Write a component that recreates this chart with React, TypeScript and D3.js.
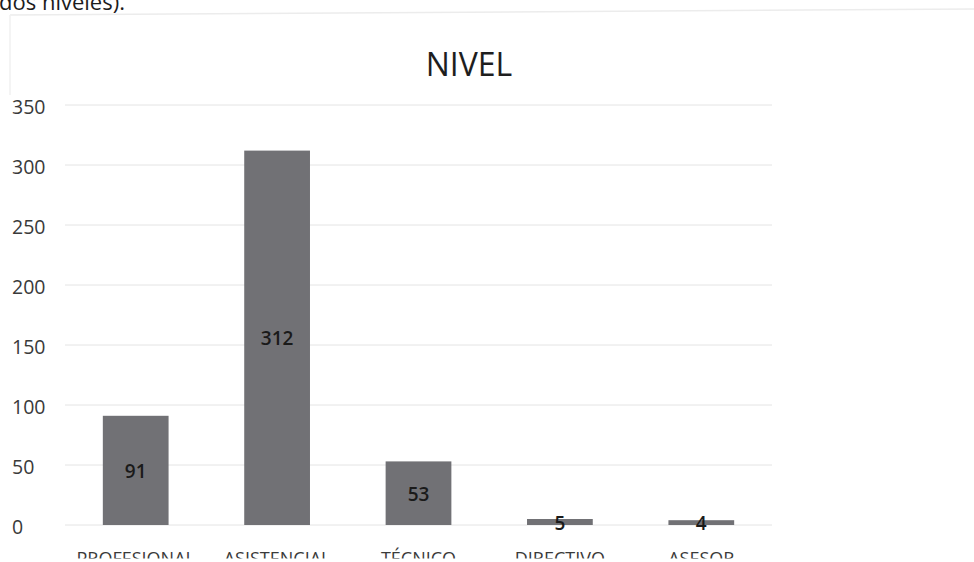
import React from "react";
import * as d3 from "d3";

// Personnel count by job level
const categories: string[] = ["PROFESIONAL", "ASISTENCIAL", "TÉCNICO", "DIRECTIVO", "ASESOR"];
const values: number[] = [91, 312, 53, 5, 4];
const yTicks: number[] = [0, 50, 100, 150, 200, 250, 300, 350];
const chartTitle = "NIVEL";
const precedingText = "dos niveles).";

const W = 974;
const H = 562;
const FONT = "'Open Sans', 'Liberation Sans', sans-serif";

export default function App() {
  const x = d3
    .scaleBand<string>()
    .domain(categories)
    .range([65, 772])
    .paddingInner(0.535)
    .paddingOuter(0.2675);
  const y = d3.scaleLinear().domain([0, 350]).range([525, 105]);

  return (
    <svg
      width={W}
      height={H}
      style={{ position: "absolute", left: 0, top: 0, background: "#fff" }}
      fontFamily={FONT}
    >
      <defs>
        <clipPath id="xlab-clip">
          <rect x={0} y={0} width={W} height={558.5} />
        </clipPath>
      </defs>

      {/* running text above the figure */}
      <text x={-1} y={10} fontSize={22} fill="#1c1c1c">
        {precedingText}
      </text>

      {/* faint chart frame */}
      <line x1={10} x2={W} y1={15} y2={9} stroke="#ececec" strokeWidth={1.5} />
      <line x1={10} x2={10} y1={15} y2={95} stroke="#f0f0f0" strokeWidth={1.5} />

      {/* title */}
      <text x={469} y={76} textAnchor="middle" fontSize={32} fill="#1e1e1e">
        {chartTitle}
      </text>

      {/* gridlines and y tick labels */}
      {yTicks.map((t) => (
        <g key={t}>
          <line
            x1={65}
            x2={772}
            y1={y(t)}
            y2={y(t)}
            stroke="#e4e4e4"
            strokeWidth={1}
          />
          <text x={12} y={y(t) + 2} dy="0.35em" fontSize={19.5} fill="#3a3a3a">
            {t}
          </text>
        </g>
      ))}

      {/* bars */}
      {categories.map((c, i) => (
        <rect
          key={c}
          x={x(c)}
          y={y(values[i])}
          width={x.bandwidth()}
          height={y(0) - y(values[i])}
          fill="#717175"
        />
      ))}

      {/* value labels, centred inside each bar */}
      {categories.map((c, i) => (
        <text
          key={c}
          x={(x(c) as number) + x.bandwidth() / 2}
          y={(y(values[i]) + y(0)) / 2 + 1}
          dy="0.35em"
          textAnchor="middle"
          fontSize={19}
          fontWeight={600}
          fill="#1a1a1a"
        >
          {values[i]}
        </text>
      ))}

      {/* category labels, cut off by the page edge */}
      <g clipPath="url(#xlab-clip)">
        {categories.map((c) => (
          <text
            key={c}
            x={(x(c) as number) + x.bandwidth() / 2}
            y={565}
            textAnchor="middle"
            fontSize={18}
            fill="#3a3a3a"
          >
            {c}
          </text>
        ))}
      </g>
    </svg>
  );
}
